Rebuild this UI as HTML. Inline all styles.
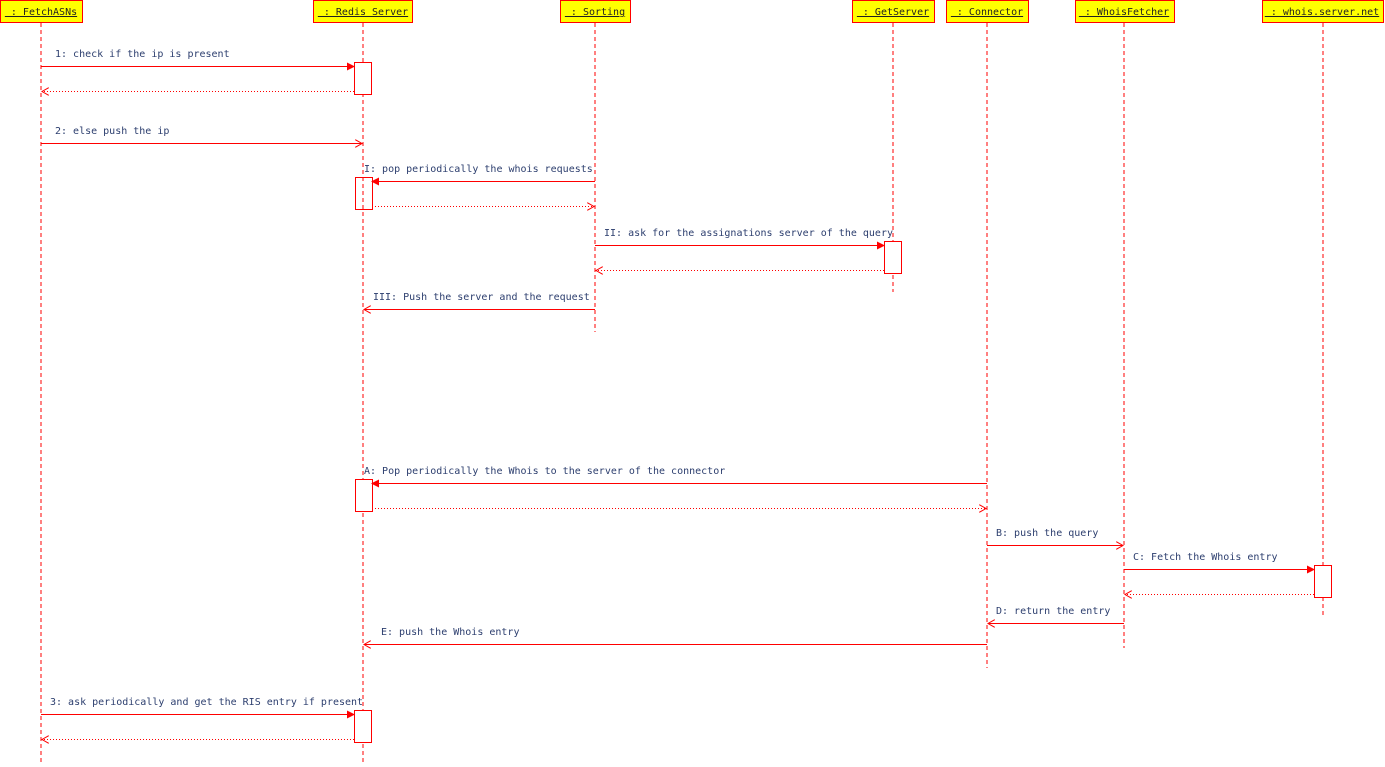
<!DOCTYPE html>
<html><head><meta charset="utf-8"><style>
html,body{margin:0;padding:0;background:#fff;}
text{font-family:"DejaVu Sans Mono","Liberation Mono",monospace;font-size:10px;fill:#2c3e6e;}
.h{fill:#222;font-size:10px;}
</style></head><body>
<svg width="1385" height="762" xmlns="http://www.w3.org/2000/svg">
<defs>
<marker id="f" markerWidth="8" markerHeight="8" refX="7" refY="4" orient="auto" markerUnits="userSpaceOnUse"><path d="M0,0 L8,4 L0,8 z" fill="red"/></marker>
<marker id="o" markerWidth="8" markerHeight="8" refX="7" refY="4" orient="auto" markerUnits="userSpaceOnUse"><path d="M0,0 L7,4 L0,8" fill="none" stroke="red"/></marker>
</defs>
<g stroke="red" stroke-dasharray="4,3" fill="none">
<line x1="41" y1="23" x2="41" y2="762"/>
<line x1="363" y1="23" x2="363" y2="762"/>
<line x1="595" y1="23" x2="595" y2="332"/>
<line x1="893" y1="23" x2="893" y2="292"/>
<line x1="987" y1="23" x2="987" y2="668"/>
<line x1="1124" y1="23" x2="1124" y2="648"/>
<line x1="1323" y1="23" x2="1323" y2="617"/>
</g>
<g fill="#ffff00" stroke="red">
<rect x="0.5" y="0.5" width="82" height="22"/>
<rect x="313.5" y="0.5" width="99" height="22"/>
<rect x="560.5" y="0.5" width="70" height="22"/>
<rect x="852.5" y="0.5" width="82" height="22"/>
<rect x="946.5" y="0.5" width="82" height="22"/>
<rect x="1075.5" y="0.5" width="99" height="22"/>
<rect x="1262.5" y="0.5" width="121" height="22"/>
</g>
<g text-anchor="middle">
<text class="h" x="41" y="15" text-decoration="underline">&#160;: FetchASNs</text>
<text class="h" x="363" y="15" text-decoration="underline">&#160;: Redis Server</text>
<text class="h" x="595" y="15" text-decoration="underline">&#160;: Sorting</text>
<text class="h" x="893" y="15" text-decoration="underline">&#160;: GetServer</text>
<text class="h" x="987" y="15" text-decoration="underline">&#160;: Connector</text>
<text class="h" x="1124" y="15" text-decoration="underline">&#160;: WhoisFetcher</text>
<text class="h" x="1322" y="15" text-decoration="underline">&#160;: whois.server.net</text>
</g>
<g stroke="red" fill="#fff">
<rect x="354.5" y="62.5" width="17" height="32"/>
<rect x="355.5" y="177.5" width="17" height="32" fill="none"/>
<rect x="884.5" y="241.5" width="17" height="32"/>
<rect x="355.5" y="479.5" width="17" height="32"/>
<rect x="1314.5" y="565.5" width="17" height="32"/>
<rect x="354.5" y="710.5" width="17" height="32"/>
</g>
<g stroke="red" fill="none">
<line x1="41" y1="66.5" x2="354" y2="66.5" marker-end="url(#f)"/>
<line x1="354" y1="91.5" x2="42" y2="91.5" stroke-dasharray="1,2" marker-end="url(#o)"/>
<line x1="41" y1="143.5" x2="362" y2="143.5" marker-end="url(#o)"/>
<line x1="595" y1="181.5" x2="372" y2="181.5" marker-end="url(#f)"/>
<line x1="372" y1="206.5" x2="594" y2="206.5" stroke-dasharray="1,2" marker-end="url(#o)"/>
<line x1="595" y1="245.5" x2="884" y2="245.5" marker-end="url(#f)"/>
<line x1="884" y1="270.5" x2="596" y2="270.5" stroke-dasharray="1,2" marker-end="url(#o)"/>
<line x1="595" y1="309.5" x2="364" y2="309.5" marker-end="url(#o)"/>
<line x1="987" y1="483.5" x2="372" y2="483.5" marker-end="url(#f)"/>
<line x1="372" y1="508.5" x2="986" y2="508.5" stroke-dasharray="1,2" marker-end="url(#o)"/>
<line x1="987" y1="545.5" x2="1123" y2="545.5" marker-end="url(#o)"/>
<line x1="1124" y1="569.5" x2="1314" y2="569.5" marker-end="url(#f)"/>
<line x1="1314" y1="594.5" x2="1125" y2="594.5" stroke-dasharray="1,2" marker-end="url(#o)"/>
<line x1="1124" y1="623.5" x2="988" y2="623.5" marker-end="url(#o)"/>
<line x1="987" y1="644.5" x2="364" y2="644.5" marker-end="url(#o)"/>
<line x1="41" y1="714.5" x2="354" y2="714.5" marker-end="url(#f)"/>
<line x1="354" y1="739.5" x2="42" y2="739.5" stroke-dasharray="1,2" marker-end="url(#o)"/>
</g>
<text x="55" y="57">1: check if the ip is present</text>
<text x="55" y="134">2: else push the ip</text>
<text x="364" y="172">I: pop periodically the whois requests</text>
<text x="604" y="236">II: ask for the assignations server of the query</text>
<text x="373" y="300">III: Push the server and the request</text>
<text x="364" y="474">A: Pop periodically the Whois to the server of the connector</text>
<text x="996" y="536">B: push the query</text>
<text x="1133" y="560">C: Fetch the Whois entry</text>
<text x="996" y="614">D: return the entry</text>
<text x="381" y="635">E: push the Whois entry</text>
<text x="50" y="705">3: ask periodically and get the RIS entry if present</text>
</svg>
</body></html>
